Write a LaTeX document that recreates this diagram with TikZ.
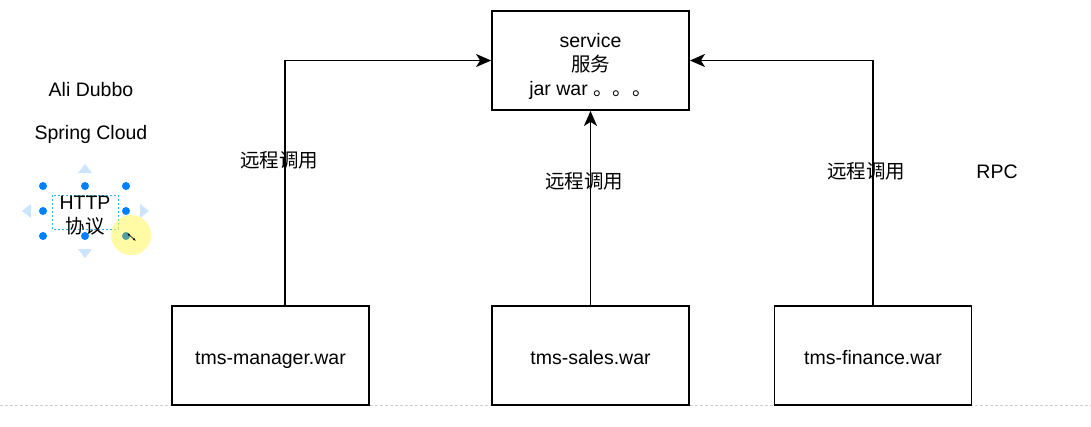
\documentclass[tikz,border=0pt]{standalone}
\usepackage{fontspec}
\setmainfont{Liberation Sans}
\newfontfamily\cjk{Noto Sans CJK SC}
\usetikzlibrary{arrows.meta,calc}
\definecolor{hblue}{RGB}{0,127,255}
\definecolor{hlight}{RGB}{204,228,255}
\definecolor{sel}{RGB}{41,182,242}
\definecolor{teal2}{RGB}{80,160,160}
\begin{document}
\begin{tikzpicture}[x=1pt,y=-1pt,
  box/.style={draw=black,line width=1.8pt,minimum width=197pt,minimum height=99pt,inner sep=0pt},
  lbl/.style={font=\fontsize{19.5}{24}\selectfont,inner sep=0pt},
  conn/.style={line width=1.8pt,-{Stealth[length=15pt,width=13pt,inset=4pt]}},
  handle/.style={fill=hblue,draw=none,circle,minimum size=8pt,inner sep=0pt},
  tri/.style={fill=hlight,draw=none}]
\useasboundingbox (0,0) rectangle (1091,426);
\fill[white] (0,0) rectangle (1091,426);
% bottom dotted page line
\draw[gray!40,line width=0.8pt,dash pattern=on 3pt off 2pt] (0,405) -- (1091,405);
% boxes
\node[box,fill=white] (svc) at (590.5,60.5) {};
\node[lbl,align=center] (svct) at (590.5,66) {service\\{\cjk 服务}\\jar war {\cjk 。。。}};
\node[box,fill=white] (mgr) at (270.5,355.5) {};
\node[box,fill=white] (sales) at (590.5,355.5) {};
\node[box,fill=white] (fin) at (873,355.5) {};
\node[lbl,anchor=base] (mgrt) at (270.5,364) {tms-manager.war};
\node[lbl,anchor=base] (salest) at (590.5,364) {tms-sales.war};
\node[lbl,anchor=base] (fint) at (873,364) {tms-finance.war};
% connectors
\draw[conn] ($(mgr.north)+(14.5,0)$) |- (svc.west);
\draw[conn] (sales.north) -- (svc.south);
\draw[conn] (fin.north) |- (svc.east);
% labels
\node[lbl] (l1) at (279,160.5) {\cjk 远程调用};
\node[lbl] (l2) at (584,181.5) {\cjk 远程调用};
\node[lbl] (l3) at (866,171.5) {\cjk 远程调用};
\node[lbl] (rpc) at (997,171.5) {RPC};
\node[lbl] (ali) at (91,89.5) {Ali Dubbo};
\node[lbl] (sc) at (91,134.5) {Spring Cloud};
% selected text with editor handles
\fill[tri] (85,164) -- (92,173) -- (78,173) -- cycle;
\fill[tri] (85,258) -- (92,249) -- (78,249) -- cycle;
\fill[tri] (22,211) -- (31,204) -- (31,218) -- cycle;
\fill[tri] (149,211) -- (140,204) -- (140,218) -- cycle;
\draw[sel,line width=0.8pt,dash pattern=on 2pt off 2pt] (52,195) rectangle (118,229);
\node[lbl,align=center] (http) at (85,216) {HTTP\\{\cjk 协议}};
\foreach \p in {(43,186),(85,186),(126,186),(43,211),(126,211),(43,236),(85,236)} \node[handle] at \p {};
\fill[yellow!60,opacity=0.6] (131,235) circle (20);
\node[handle,fill=teal2] at (126,236) {};
\draw[line width=0.6pt,{Latex[length=3pt]}-{Latex[length=3pt]}] (127,233) -- (136,241);
\end{tikzpicture}
\end{document}
